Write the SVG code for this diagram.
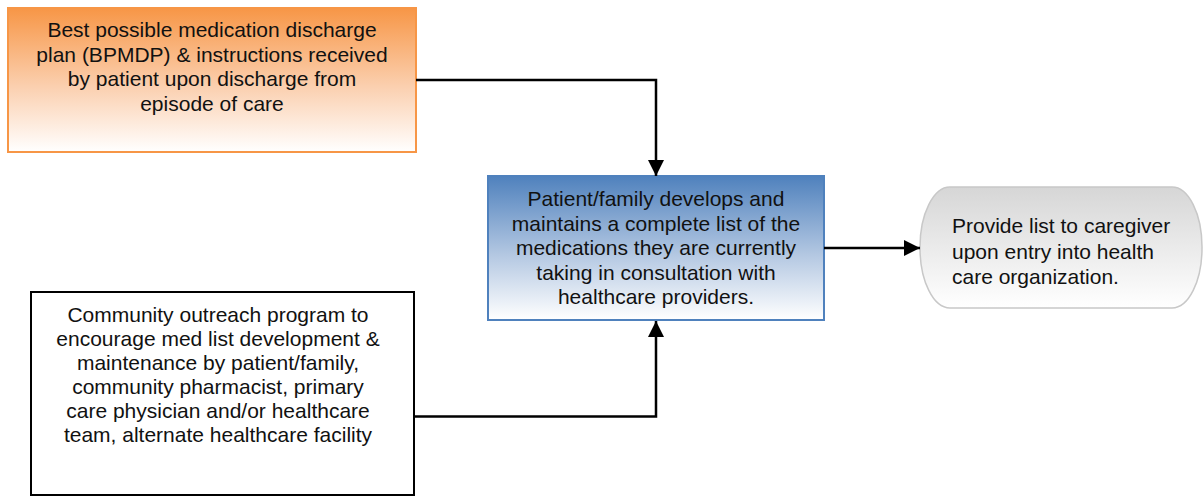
<svg xmlns="http://www.w3.org/2000/svg" width="1203" height="496" viewBox="0 0 1203 496">
<defs>
<linearGradient id="gOrange" x1="0" y1="0" x2="0" y2="1">
<stop offset="0" stop-color="#F79646"/>
<stop offset="0.55" stop-color="#FBD0B0"/>
<stop offset="1" stop-color="#FFFFFF"/>
</linearGradient>
<linearGradient id="gBlue" x1="0" y1="0" x2="0" y2="1">
<stop offset="0" stop-color="#4F81BD"/>
<stop offset="0.55" stop-color="#B4C8E2"/>
<stop offset="1" stop-color="#FFFFFF"/>
</linearGradient>
<linearGradient id="gGray" x1="0" y1="0" x2="0" y2="1">
<stop offset="0" stop-color="#D6D6D6"/>
<stop offset="1" stop-color="#FFFFFF"/>
</linearGradient>
<marker id="arrow" viewBox="0 0 16 16" refX="16" refY="8" markerWidth="16" markerHeight="16" markerUnits="userSpaceOnUse" orient="auto">
<path d="M0,0 L16,8 L0,16 Z" fill="#000"/>
</marker>
</defs>
<style>
text { font-family: "Liberation Sans", Arial, sans-serif; font-size: 21px; fill: #111; }
.c { text-anchor: middle; }
.conn { fill: none; stroke: #000; stroke-width: 2.5; }
</style>
<g id="node-bpmdp">
<rect x="8" y="8" width="408" height="144" fill="url(#gOrange)" stroke="#F79646" stroke-width="2"/>
<text class="c" x="212" y="37">Best possible medication discharge</text>
<text class="c" x="212" y="62">plan (BPMDP) &amp; instructions received</text>
<text class="c" x="212" y="86">by patient upon discharge from</text>
<text class="c" x="212" y="111">episode of care</text>
</g>
<g id="node-list">
<rect x="488" y="176" width="336" height="144" fill="url(#gBlue)" stroke="#4F81BD" stroke-width="2"/>
<text class="c" x="656" y="206">Patient/family develops and</text>
<text class="c" x="656" y="230.5">maintains a complete list of the</text>
<text class="c" x="656" y="255">medications they are currently</text>
<text class="c" x="656" y="279.5">taking in consultation with</text>
<text class="c" x="656" y="304">healthcare providers.</text>
</g>
<g id="node-provide">
<rect x="920" y="187" width="282" height="121" rx="30" ry="60" fill="url(#gGray)" stroke="#C8C8C8" stroke-width="1.5"/>
<text x="952" y="233">Provide list to caregiver</text>
<text x="952" y="258.5">upon entry into health</text>
<text x="952" y="284">care organization.</text>
</g>
<g id="node-community">
<rect x="31" y="292" width="383" height="203" fill="#FFFFFF" stroke="#000" stroke-width="2"/>
<text class="c" x="218" y="322">Community outreach program to</text>
<text class="c" x="218" y="346">encourage med list development &amp;</text>
<text class="c" x="218" y="370">maintenance by patient/family,</text>
<text class="c" x="218" y="394">community pharmacist, primary</text>
<text class="c" x="218" y="418">care physician and/or healthcare</text>
<text class="c" x="218" y="442">team, alternate healthcare facility</text>
</g>
<g id="connectors">
<path class="conn" d="M416,80 H656 V176" marker-end="url(#arrow)"/>
<path class="conn" d="M414,416.5 H656 V321" marker-end="url(#arrow)"/>
<path class="conn" d="M824,248 H920" marker-end="url(#arrow)"/>
</g>
</svg>
